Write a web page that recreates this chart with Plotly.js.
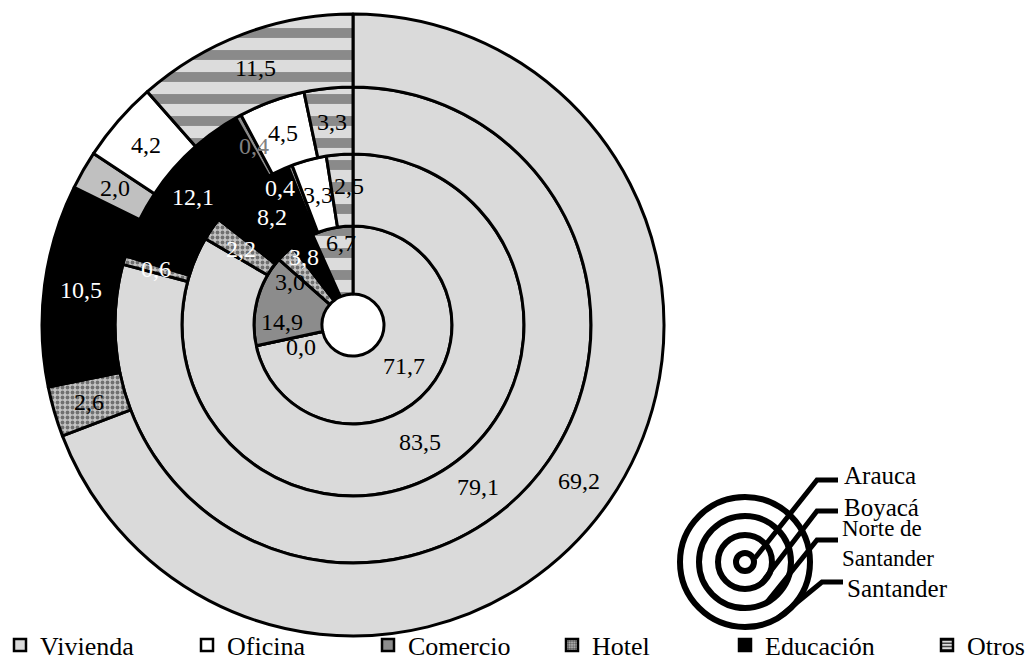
<!DOCTYPE html>
<html>
<head>
<meta charset="utf-8">
<script src="https://cdn.plot.ly/plotly-3.0.1.min.js"></script>
<style>
html,body{margin:0;padding:0;background:#ffffff;}
#chart{width:1030px;height:661px;}
</style>
</head>
<body>
<div id="chart"></div>
<script>
// ---- data ----
const categories = ['Vivienda', 'Oficina', 'Comercio', 'Hotel', 'Educación', 'Otros'];
const ringNames = ['Arauca', 'Boyacá', 'Norte de Santander', 'Santander'];
const arauca = [71.7, 0.0, 14.9, 3.0, 3.8, 6.7];
const boyaca = [83.5, 3.3, 0.4, 2.2, 8.2, 2.5];
const norteSantander = [79.1, 4.5, 0.4, 0.6, 12.1, 3.3];
const santander = [69.2, 4.2, 2.0, 2.6, 10.5, 11.5];
const ringValues = [arauca, boyaca, norteSantander, santander];

// ---- layout / style ----
const W = 1030, H = 661;
const cx = 353, cy = 325;                 // pie centre in px
const radii = [31, 99, 171, 238, 311];    // hole, ring1..ring4 outer
const sliceOrder = [[0,1,2,3,4,5],[0,3,4,2,1,5],[0,3,4,2,1,5],[0,3,4,2,1,5]];
const fill = ['#dadada', '#ffffff', '#8c8c8c', '#c4c4c4', '#000000', '#dcdcdc'];
const ringFillOverride = {3: {2: '#c0c0c0'}};
const patShape = ['', '', '', '.', '', '-'];
const patFg = ['#000', '#000', '#000', '#707070', '#000', '#8a8a8a'];
const patSize = [8, 8, 8, 5, 8, 22];
const patSolid = [0.3, 0.3, 0.3, 0.45, 0.3, 0.45];
const labelColor = [
  ['#000','#000','#000','#000','#fff','#000'],
  ['#000','#000','#fff','#fff','#fff','#000'],
  ['#000','#000','#808080','#fff','#fff','#000'],
  ['#000','#000','#000','#000','#fff','#000']
];
// label placement tweaks: ring -> category -> [angle shift deg, radius px]
const labelNudge = {
  0: {1: [-11, 57], 2: [-12, 71], 3: [-12.5, 76], 4: [-4.5, 84], 5: [3.5, 83]},
  1: {2: [-6.5, 155], 5: [3, 139]}
};
const FONT = 'Liberation Serif, Times New Roman, serif';

const px = x => x / W;
const py = y => 1 - y / H;

const traces = [];
const annotations = [];

ringValues.forEach((vals, i) => {
  const order = sliceOrder[i];
  const R = radii[i + 1];
  const labels = order.map(k => categories[k]);
  const values = order.map(k => vals[k]);
  const colors = order.map(k => (ringFillOverride[i] && ringFillOverride[i][k]) || fill[k]);
  traces.push({
    type: 'pie',
    name: ringNames[i],
    labels: labels,
    values: values,
    sort: false,
    direction: 'clockwise',
    rotation: 0,
    hole: radii[i] / R,
    domain: {x: [px(cx - R), px(cx + R)], y: [py(cy + R), py(cy - R)]},
    marker: {
      colors: colors,
      line: {color: '#000000', width: 3},
      pattern: {
        shape: order.map(k => patShape[k]),
        fgcolor: order.map(k => patFg[k]),
        bgcolor: colors,
        size: order.map(k => patSize[k]),
        solidity: order.map(k => patSolid[k])
      }
    },
    textinfo: 'none',
    hoverinfo: 'label+value+name',
    showlegend: false
  });
  // data labels at slice mid-angle
  const total = values.reduce((a, b) => a + b, 0);
  let cum = 0;
  order.forEach((k) => {
    const v = vals[k];
    let deg = 360 * (cum + v / 2) / total;
    let r = radii[i] + 0.5 * (R - radii[i]);
    cum += v;
    const nud = labelNudge[i] && labelNudge[i][k];
    if (nud) { deg += nud[0]; r = nud[1]; }
    const th = deg * Math.PI / 180;
    annotations.push({
      xref: 'paper', yref: 'paper',
      x: px(cx + r * Math.sin(th)),
      y: py(cy - r * Math.cos(th)),
      text: v.toFixed(1).replace('.', ','),
      showarrow: false, xanchor: 'center', yanchor: 'middle',
      font: {family: FONT, size: 24, color: labelColor[i][k]}
    });
  });
});

// ---- category legend (one library legend per entry, so entries sit where the reference has them) ----
const legendTextX = [20, 227, 408, 592, 765, 967];   // where each entry's text starts (px)
const layoutLegends = {};
categories.forEach((c, k) => {
  const id = k === 0 ? 'legend' : 'legend' + (k + 1);
  traces.push({
    type: 'bar', x: [null], y: [null], name: c, legend: id, showlegend: true,
    hoverinfo: 'skip',
    marker: {
      color: fill[k],
      line: {color: '#000', width: 2.5},
      pattern: {shape: patShape[k], fgcolor: k === 5 ? '#444' : '#555', bgcolor: fill[k],
                size: k === 5 ? 4 : 3, solidity: 0.5}
    }
  });
  layoutLegends[id] = {
    x: Math.max(0, px(legendTextX[k] - 40)), xanchor: 'left', y: py(645), yanchor: 'middle',
    font: {family: FONT, size: 26, color: '#000'},
    bgcolor: 'rgba(0,0,0,0)', borderwidth: 0, itemwidth: 30
  };
});

// ---- series key (concentric circles) ----
const kc = {x: 745, y: 562};
const keyRadii = [9, 27, 46, 65];
const shapes = [];
keyRadii.slice().reverse().forEach((r) => {
  shapes.push({
    type: 'circle', xref: 'paper', yref: 'paper',
    x0: px(kc.x - r), x1: px(kc.x + r), y0: py(kc.y + r), y1: py(kc.y - r),
    line: {color: '#000', width: 6},
    fillcolor: r === keyRadii[0] ? '#ffffff' : 'rgba(0,0,0,0)'
  });
});
const leaders = [
  [[838,480],[817,480],[755,558]],
  [[838,511],[817,511],[760,585]],
  [[838,540],[817,540],[767,602]],
  [[843,582],[822,582],[778,618]]
];
leaders.forEach(pts => {
  const d = 'M ' + pts.map(p => px(p[0]) + ',' + py(p[1])).join(' L ');
  shapes.push({type: 'path', xref: 'paper', yref: 'paper', path: d, line: {color: '#000', width: 5}});
});
const keyText = [
  {t: 'Arauca', x: 842, y: 475, s: 25},
  {t: 'Boyacá', x: 842, y: 507, s: 25},
  {t: 'Norte de<br>Santander', x: 840, y: 543, s: 23},
  {t: 'Santander', x: 845, y: 588, s: 25}
];
keyText.forEach(k => annotations.push({
  xref: 'paper', yref: 'paper', x: px(k.x), y: py(k.y),
  xanchor: 'left', yanchor: 'middle', align: 'left', showarrow: false,
  text: k.t, font: {family: FONT, size: k.s, color: '#000'}
}));

const layout = Object.assign({
  width: W, height: H,
  margin: {l: 0, r: 0, t: 0, b: 0, autoexpand: false},
  paper_bgcolor: '#ffffff',
  plot_bgcolor: 'rgba(0,0,0,0)',
  font: {family: FONT, size: 25, color: '#000'},
  showlegend: true,
  xaxis: {visible: false, fixedrange: true},
  yaxis: {visible: false, fixedrange: true},
  shapes: shapes,
  annotations: annotations
}, layoutLegends);

Plotly.newPlot('chart', traces, layout, {displayModeBar: false, staticPlot: true});
</script>
</body>
</html>
